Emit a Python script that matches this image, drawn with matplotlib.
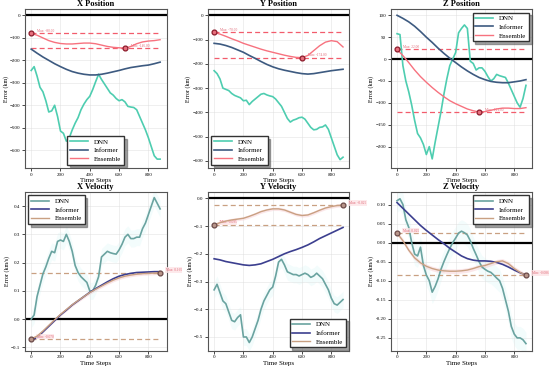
import numpy as np
import matplotlib
matplotlib.use("Agg")
import matplotlib.pyplot as plt

plt.rcParams['font.family'] = ['Liberation Serif', 'DejaVu Serif']

# time axes
steps_fine = np.arange(0, 881, 20)     # DNN series
steps_coarse = np.arange(0, 881, 40)   # Informer / Ensemble series

# --- position errors (km) ---
dnn_x_pos = [-245, -228, -270, -320, -340, -380, -430, -425, -400, -450,
             -515, -525, -560, -545, -510, -480, -455, -420, -395, -375,
             -360, -330, -295, -262, -285, -305, -325, -345, -355, -370,
             -380, -375, -385, -405, -408, -410, -420, -450, -480, -510,
             -545, -585, -625, -640, -640]
inf_x_pos = [-150, -168, -185, -200, -215, -228, -240, -250, -257, -262, -265, -265,
             -262, -257, -251, -245, -238, -232, -228, -224, -221, -215, -208]
ens_x_pos = [-80, -88, -100, -112, -120, -125, -127, -127, -125, -123, -123, -126,
             -132, -138, -142, -144, -146, -138, -126, -118, -114, -112, -108]

dnn_y_pos = [-228, -240, -262, -300, -305, -310, -322, -330, -335, -340,
             -352, -350, -368, -355, -345, -335, -325, -322, -328, -332,
             -335, -345, -360, -375, -400, -425, -440, -432, -428, -422,
             -420, -428, -445, -462, -472, -470, -462, -460, -452, -470,
             -505, -540, -575, -595, -585]
inf_y_pos = [-115, -118, -124, -132, -142, -152, -165, -177, -190, -202, -212, -220,
             -226, -231, -236, -240, -242, -240, -236, -232, -228, -225, -222]
ens_y_pos = [-70, -77, -86, -96, -105, -115, -123, -131, -139, -146, -152, -158,
             -164, -169, -173, -174, -165, -145, -125, -110, -104, -108, -130]

dnn_z_pos = [58, 56, -15, -50, -75, -105, -140, -170, -180, -195,
             -218, -200, -228, -190, -155, -120, -80, -45, -15, 0,
             15, 60, 70, 78, 70, -5, -10, -25, -20, -20,
             -28, -40, -50, -45, -35, -38, -40, -42, -55, -70,
             -85, -100, -110, -90, -60]
inf_z_pos = [100, 93, 85, 75, 63, 50, 38, 25, 13, 2, -8, -18,
             -27, -35, -42, -47, -51, -53, -54, -54, -52, -50, -47]
ens_z_pos = [22, 8, -8, -25, -40, -53, -65, -76, -86, -95, -102, -108,
             -114, -118, -121, -120, -117, -114, -112, -112, -113, -113, -111]

# --- velocity errors (km/s) ---
dnn_x_vel = [0.0, 0.015, 0.08, 0.12, 0.16, 0.185, 0.215, 0.24, 0.235, 0.275,
             0.28, 0.275, 0.30, 0.275, 0.24, 0.19, 0.165, 0.15, 0.14, 0.13,
             0.10, 0.10, 0.12, 0.15, 0.22, 0.23, 0.24, 0.235, 0.232, 0.23,
             0.245, 0.265, 0.29, 0.30, 0.285, 0.285, 0.29, 0.29, 0.32, 0.34,
             0.37, 0.40, 0.43, 0.41, 0.39]
inf_x_vel = [-0.075, -0.065, -0.045, -0.025, -0.005, 0.015, 0.032, 0.05, 0.065, 0.08,
             0.095, 0.108, 0.12, 0.132, 0.143, 0.152, 0.158, 0.162, 0.165, 0.166,
             0.167, 0.168, 0.168]
ens_x_vel = [-0.07, -0.06, -0.042, -0.022, -0.002, 0.017, 0.034, 0.051, 0.066, 0.08,
             0.094, 0.106, 0.117, 0.128, 0.138, 0.146, 0.152, 0.156, 0.159, 0.161,
             0.162, 0.163, 0.165]

dnn_y_vel = [-0.33, -0.31, -0.34, -0.37, -0.38, -0.41, -0.44, -0.445, -0.43, -0.42,
             -0.50, -0.50, -0.52, -0.50, -0.47, -0.44, -0.40, -0.37, -0.35, -0.33,
             -0.32, -0.28, -0.23, -0.22, -0.24, -0.265, -0.27, -0.275, -0.275, -0.28,
             -0.275, -0.27, -0.275, -0.285, -0.28, -0.27, -0.28, -0.29, -0.31, -0.33,
             -0.36, -0.38, -0.385, -0.375, -0.365]
inf_y_vel = [-0.218, -0.222, -0.228, -0.232, -0.236, -0.24, -0.242, -0.24, -0.236, -0.228,
             -0.22, -0.21, -0.20, -0.192, -0.185, -0.177, -0.168, -0.157, -0.145, -0.135,
             -0.125, -0.115, -0.105]
ens_y_vel = [-0.095, -0.088, -0.082, -0.078, -0.075, -0.072, -0.065, -0.057, -0.048, -0.042,
             -0.038, -0.038, -0.042, -0.05, -0.058, -0.062, -0.06, -0.052, -0.043, -0.035,
             -0.03, -0.026, -0.025]

dnn_z_vel = [0.11, 0.115, 0.10, 0.06, 0.04, 0.0, -0.03, -0.035, -0.012, -0.06,
             -0.085, -0.10, -0.13, -0.115, -0.095, -0.07, -0.05, -0.032, -0.015, 0.0,
             0.012, 0.025, 0.03, 0.026, 0.02, 0.005, -0.015, -0.032, -0.05, -0.064,
             -0.07, -0.075, -0.078, -0.085, -0.093, -0.10, -0.12, -0.15, -0.18, -0.22,
             -0.24, -0.25, -0.25, -0.255, -0.265]
inf_z_vel = [0.105, 0.09, 0.075, 0.06, 0.045, 0.032, 0.02, 0.008, -0.003, -0.015,
             -0.025, -0.035, -0.042, -0.046, -0.048, -0.048, -0.049, -0.052, -0.057, -0.064,
             -0.072, -0.079, -0.085]
ens_z_vel = [0.025, 0.005, -0.02, -0.04, -0.053, -0.062, -0.068, -0.072, -0.074, -0.075,
             -0.075, -0.074, -0.072, -0.068, -0.063, -0.06, -0.055, -0.05, -0.048, -0.055,
             -0.068, -0.078, -0.086]

titles = ['X Position', 'Y Position', 'Z Position', 'X Velocity', 'Y Velocity', 'Z Velocity']
legend_locs = ['lower center', 'lower left', 'upper right', 'upper left', 'lower right', 'upper right']

panels = [
    (dnn_x_pos, inf_x_pos, ens_x_pos, 'km'),
    (dnn_y_pos, inf_y_pos, ens_y_pos, 'km'),
    (dnn_z_pos, inf_z_pos, ens_z_pos, 'km'),
    (dnn_x_vel, inf_x_vel, ens_x_vel, 'km/s'),
    (dnn_y_vel, inf_y_vel, ens_y_vel, 'km/s'),
    (dnn_z_vel, inf_z_vel, ens_z_vel, 'km/s'),
]
ylims = [(-680, 28), (-630, 26), (-249, 114), (-0.112, 0.45), (-0.55, 0.023), (-0.284, 0.133)]

pos_colors = ('#4ecdb0', '#3d5a80', '#f7727f')
vel_colors = ('#6aa3a0', '#3c3f8f', '#c9a082')

fig, axes = plt.subplots(2, 3, figsize=(5.5, 3.67), dpi=100)
fig.subplots_adjust(left=0.045, right=0.968, bottom=0.044, top=0.975, wspace=0.29, hspace=0.15)

for i, ax in enumerate(axes.flat):
    dnn, inf, ens, unit = panels[i]
    dnn = np.array(dnn)
    ens = np.array(ens)
    is_vel = i >= 3
    c_dnn, c_inf, c_ens = vel_colors if is_vel else pos_colors

    ax.grid(True, color='#dddddd', lw=0.4, alpha=0.8)
    ax.axhline(0, color='black', lw=1.6, zorder=2)

    if is_vel:
        ax.fill_between(steps_fine, dnn - 0.03, dnn + 0.03, color='#9ee8e8', alpha=0.12, lw=0)
        ax.fill_between(steps_coarse, ens - 0.006, ens + 0.006, color='#f4b0b8', alpha=0.3, lw=0)

    ax.plot(steps_fine, dnn, color=c_dnn, lw=1.2, label='DNN', zorder=3)
    ax.plot(steps_coarse, inf, color=c_inf, lw=1.2, label='Informer', zorder=3)
    ax.plot(steps_coarse, ens, color=c_ens, lw=1.0, label='Ensemble', zorder=4)

    # min / max markers of ensemble
    imax, imin = np.argmax(ens), np.argmin(ens)
    line_c = c_ens if is_vel else '#f25c6c'
    edge = '#6b4a48' if is_vel else '#8b1a2a'
    face = '#b8958a' if is_vel else '#e8707e'
    for idx, lab in [(imax, 'Max'), (imin, 'Min')]:
        val = ens[idx]
        ax.plot([steps_coarse[0], steps_coarse[-1]], [val, val], ls='--', color=line_c,
                lw=0.9, dashes=(4, 2.5), zorder=2)
        ax.plot(steps_coarse[idx], val, 'o', ms=3.5, mfc=face, mec=edge, mew=0.9, zorder=5)
        txt = f'{lab}: {val:.3f}' if is_vel else f'{lab}: {val:.2f}'
        kw = dict(boxstyle='square,pad=0.2', fc='#fde4e6', ec='none', alpha=0.8) if is_vel else None
        ax.annotate(txt, (steps_coarse[idx], val), xytext=(4, 1), textcoords='offset points',
                    fontsize=2.5, color='#e06a78', bbox=kw, annotation_clip=False)

    ax.set_ylim(*ylims[i])
    ax.set_xticks([0, 200, 400, 600, 800])
    ax.tick_params(labelsize=3.6, length=2, width=0.5, pad=1.2)
    ax.set_title(titles[i], fontsize=6, fontweight='bold', pad=2)
    ax.set_xlabel('Time Steps', fontsize=5, labelpad=1)
    ax.set_ylabel(f'Error ({unit})', fontsize=4.3, labelpad=0.8)
    for s in ax.spines.values():
        s.set_color('#555555')
        s.set_linewidth(0.8)
    if i == 5:
        ax.yaxis.set_major_formatter(plt.FormatStrFormatter('%.2f'))
    ax.legend(loc=legend_locs[i], fontsize=5, frameon=True, fancybox=False, shadow=True,
              edgecolor='#333333', framealpha=1, handlelength=2.6, borderpad=0.4,
              labelspacing=0.4)

plt.savefig('out.png', dpi=100)
